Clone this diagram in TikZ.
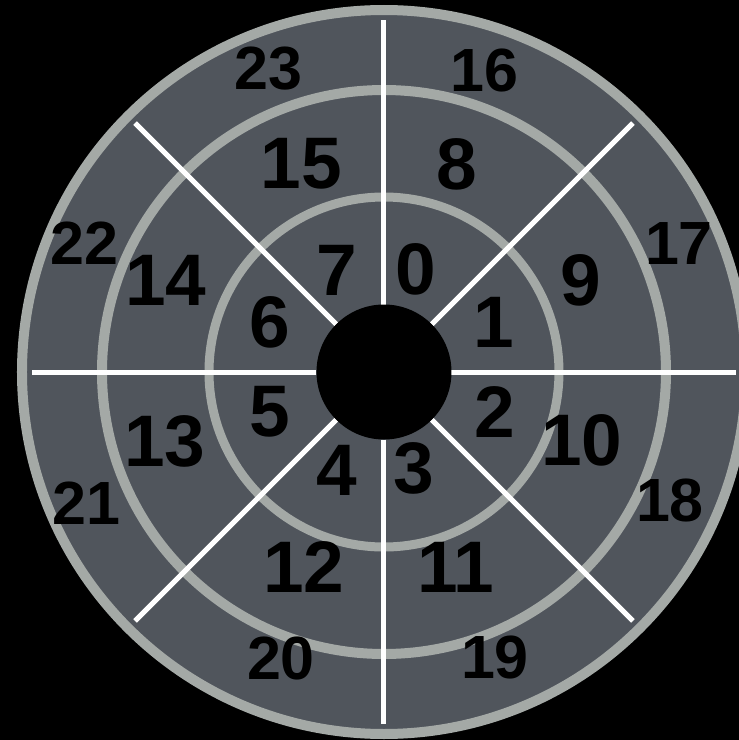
\documentclass[tikz,border=0pt]{standalone}
\usepackage{fontspec}
\setmainfont{Liberation Sans}
\definecolor{slate}{RGB}{80,85,92}
\definecolor{ringgray}{RGB}{164,169,166}
\tikzset{
  ring/.style={draw=ringgray,line width=10pt},
  spoke/.style={draw=white,line width=5pt},
  biglbl/.style={font=\bfseries\fontsize{73}{80}\selectfont,inner sep=0pt},
  smalllbl/.style={font=\bfseries\fontsize{61}{68}\selectfont,inner sep=0pt}
}

\begin{document}
\begin{tikzpicture}[x=1pt,y=1pt]
\fill[black] (-384,-368) rectangle (355,372);
\useasboundingbox (-384,-368) rectangle (355,372);
\clip (-384,-368) rectangle (355,372);
\fill[slate] (0,0) circle (362);
\draw[ring] (0,0) circle (362);
\draw[ring] (0,0) circle (282);
\draw[ring,line width=9pt] (0,0) circle (175);
\foreach \a in {0,45,...,315}
  \draw[spoke] (\a:67.5) -- (\a:352);
\fill[black] (0,0) circle (67.5);
% inner and middle rings
\foreach \t/\x/\y in {0/31.5/103, 1/110/49.5, 2/110.8/-40.2, 3/29.8/-96.5,
  4/-47/-98, 5/-114.4/-40.2, 6/-114.4/49.5, 7/-47/102,
  8/73/208, 9/196.6/91.7, 10/198/-68.5, 11/72/-195.5,
  12/-80/-195.5, 13/-219/-69.5, 14/-218/91.5, 15/-82.4/208.5}
  \node[biglbl] (n\t) at (\x,\y) {\t};
% outer ring
\foreach \t/\x/\y in {16/100.5/301.7, 17/295/128.3, 18/286/-128.5, 19/111/-285.5,
  20/-103/-286.5, 21/-297.3/-131.3, 22/-299.2/128.5, 23/-115.4/303}
  \node[smalllbl] (n\t) at (\x,\y) {\t};
\end{tikzpicture}
\end{document}
